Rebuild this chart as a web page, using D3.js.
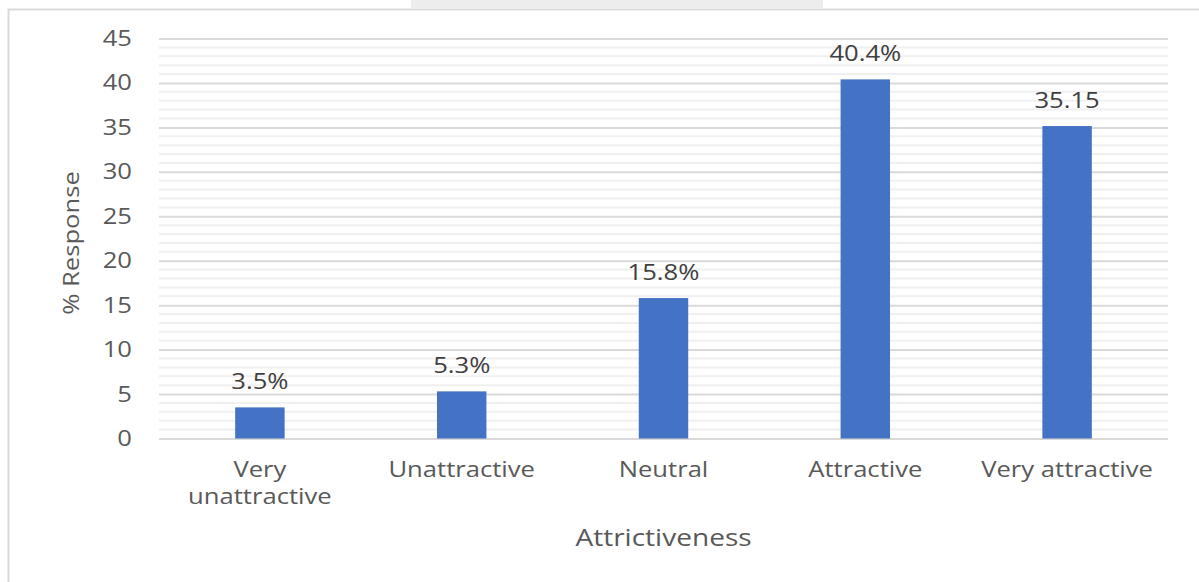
<!DOCTYPE html>
<html>
<head>
<meta charset="utf-8">
<script src="https://cdn.jsdelivr.net/npm/d3@7"></script>
<style>
  body { margin: 0; background: #fff; }
  text { font-family: "Open Sans", sans-serif; fill: #595959; }
</style>
</head>
<body>
<svg id="chart" width="1199" height="582"></svg>
<script>
const categories = [['Very', 'unattractive'], ['Unattractive'], ['Neutral'], ['Attractive'], ['Very attractive']]
const values = [3.5, 5.3, 15.8, 40.4, 35.15]
const valueLabels = ['3.5%', '5.3%', '15.8%', '40.4%', '35.15']
const yTicks = [0, 5, 10, 15, 20, 25, 30, 35, 40, 45]

const STRETCH = 1.22

const svg = d3.select('#chart')
const width = 1199
const height = 582
const margin = { top: 38.5, right: 31, bottom: 143.5, left: 159 }

// stretched text helper: text is drawn at (x, y) and widened along its baseline
function label(g, x, y, str, size, anchor, rot) {
    return g.append('text')
        .attr('transform', `translate(${x},${y})${rot ? ` rotate(${rot})` : ''} scale(${STRETCH},1)`)
        .attr('text-anchor', anchor)
        .attr('font-size', size)
        .text(str)
}

// page strip above the frame
svg.append('rect')
    .attr('x', 411).attr('y', 0).attr('width', 412).attr('height', 8)
    .attr('fill', '#ededed')

// outer frame
svg.append('rect')
    .attr('x', 8.5).attr('y', 9.5)
    .attr('width', width + 10).attr('height', height + 10)
    .attr('fill', 'none').attr('stroke', '#d9d9d9').attr('stroke-width', 2)

const keys = categories.map(c => c.join(' '))
const xScale = d3.scaleBand()
    .domain(keys)
    .range([margin.left, width - margin.right])
    .paddingInner(0.755)
    .paddingOuter(0.3775)

const yScale = d3.scaleLinear()
    .domain([0, 45])
    .range([height - margin.bottom, margin.top])

// minor gridlines
svg.append('g')
    .selectAll('line')
    .data(d3.range(0, 46).filter(v => v % 5 !== 0))
    .join('line')
    .attr('x1', margin.left).attr('x2', width - margin.right)
    .attr('y1', d => yScale(d)).attr('y2', d => yScale(d))
    .attr('stroke', '#f0f0f0').attr('stroke-width', 2)

// major gridlines
const yAxis = g =>
    g.attr('transform', `translate(${margin.left},0)`)
        .call(d3.axisLeft(yScale).tickValues(yTicks).tickSize(-(width - margin.left - margin.right)).tickFormat(''))
        .call(g => g.select('.domain').remove())
        .call(g => g.selectAll('.tick line').attr('stroke', '#d9d9d9').attr('stroke-width', 2))

svg.append('g').call(yAxis)

// y tick labels
const yLab = svg.append('g')
yTicks.forEach(t => {
    label(yLab, 132, yScale(t) + 7.5, t, 21, 'end')
})

// bars
svg.append('g')
    .selectAll('rect')
    .data(values)
    .join('rect')
    .attr('x', (d, i) => xScale(keys[i]))
    .attr('y', d => yScale(d))
    .attr('width', xScale.bandwidth())
    .attr('height', d => yScale(0) - yScale(d))
    .attr('fill', '#4472c4')

// data labels
const dl = svg.append('g')
values.forEach((v, i) => {
    label(dl, xScale(keys[i]) + xScale.bandwidth() / 2, yScale(v) - 18, valueLabels[i], 21, 'middle')
        .style('fill', '#404040')
})

// category labels
const catG = svg.append('g')
categories.forEach((lines, i) => {
    lines.forEach((line, j) => {
        label(catG, xScale(keys[i]) + xScale.bandwidth() / 2, 477 + j * 27, line, 21, 'middle')
    })
})

// axis titles
label(svg, (margin.left + width - margin.right) / 2, 546, 'Attrictiveness', 23, 'middle')
label(svg, 79, 243, '% Response', 21, 'middle', -90)
</script>
</body>
</html>
